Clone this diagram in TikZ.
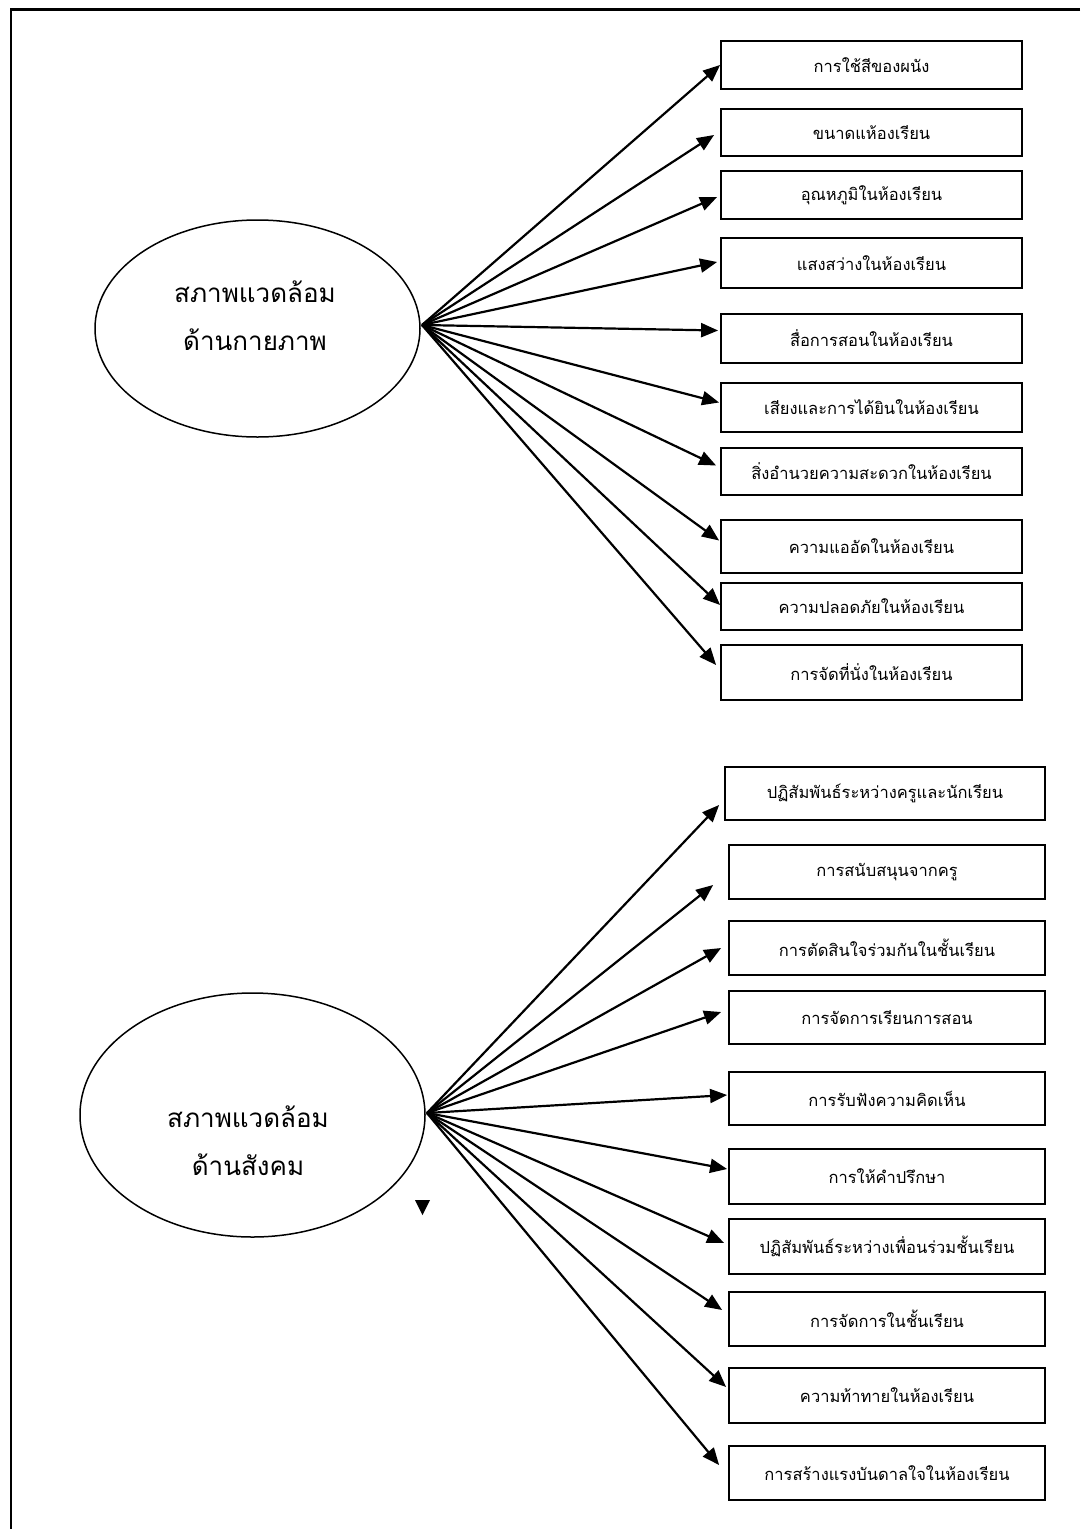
\documentclass[tikz,border=0pt]{standalone}
\usepackage{fontspec}
\newfontfamily\thaifont[Script=Thai]{Loma}
\usetikzlibrary{arrows.meta,shapes.geometric}

\tikzset{
  item/.style={draw, line width=1.8pt, inner sep=0pt, font=\thaifont\fontsize{16.5}{20}\selectfont},
  factor/.style={draw, ellipse, line width=1.5pt, inner sep=0pt},
  factortext/.style={align=center, inner sep=0pt, font=\thaifont\fontsize{26}{48}\selectfont},
  link/.style={line width=2.2pt, -{Triangle[length=17pt,width=14pt]}}
}

\begin{document}
\begin{tikzpicture}[x=1pt, y=-1pt]
\useasboundingbox (0,0) rectangle (1080,1529);
\draw[line width=2.2pt] (1080,9.5) -- (11,9.5) -- (11,1529);

\node[factor, minimum width=325pt, minimum height=217pt] (phys) at (257.5,328.5) {};
\node[factortext] (physname) at (255,316) {สภาพแวดล้อม\\ด้านกายภาพ};
\coordinate (physout) at (422,325);

\node[factor, minimum width=345pt, minimum height=244pt] (soc) at (252.5,1115) {};
\node[factortext] (socname) at (248,1141) {สภาพแวดล้อม\\ด้านสังคม};
\coordinate (socout) at (427,1113);

\foreach \n/\y/\h/\t in {
    p1/65/48/การใช้สีของผนัง,
    p2/132.5/47/ขนาดแห้องเรียน,
    p3/195/48/อุณหภูมิในห้องเรียน,
    p4/263/50/แสงสว่างในห้องเรียน,
    p5/338.5/49/สื่อการสอนในห้องเรียน,
    p6/407.5/49/เสียงและการได้ยินในห้องเรียน,
    p7/471.5/47/สิ่งอำนวยความสะดวกในห้องเรียน,
    p8/546.5/53/ความแออัดในห้องเรียน,
    p9/606.5/47/ความปลอดภัยในห้องเรียน,
    p10/672.5/55/การจัดที่นั่งในห้องเรียน}
  \node[item, minimum width=301pt, minimum height=\h pt] (\n) at (871.5,\y) {\t};

\node[item, minimum width=320pt, minimum height=53pt] (s1) at (885,793.5) {ปฏิสัมพันธ์ระหว่างครูและนักเรียน};
\foreach \n/\y/\h/\t in {
    s2/872/54/การสนับสนุนจากครู,
    s3/948/54/การตัดสินใจร่วมกันในชั้นเรียน,
    s4/1017.5/53/การจัดการเรียนการสอน,
    s5/1098.5/53/การรับฟังความคิดเห็น,
    s6/1176.5/55/การให้คำปรึกษา,
    s7/1246.5/55/ปฏิสัมพันธ์ระหว่างเพื่อนร่วมชั้นเรียน,
    s8/1319/54/การจัดการในชั้นเรียน,
    s9/1395.5/55/ความท้าทายในห้องเรียน,
    s10/1473/54/การสร้างแรงบันดาลใจในห้องเรียน}
  \node[item, minimum width=316pt, minimum height=\h pt] (\n) at (887,\y) {\t};

\foreach \n/\dx/\dy in {p1/0/0, p2/-6/-2.5, p3/-3/-2, p4/-3/1, p5/-2/8,
    p6/-1/5, p7/-4/6, p8/-1/6, p9/0/1.5, p10/-4/7.5}
  \draw[link] (physout) -- ([xshift=\dx pt, yshift=\dy pt]\n.west);

\foreach \n/\dx/\dy in {s1/-5/-11.5, s2/-15/-13, s3/-7/0, s4/-7/5.5, s5/-1/3.5,
    s6/-1/7.5, s7/-4/3.5, s8/-6/9, s9/-2/8.5, s10/-9/8}
  \draw[link] (socout) -- ([xshift=\dx pt, yshift=\dy pt]\n.west);

\fill (415,1200) -- (430,1200) -- (422.5,1215) -- cycle;
\end{tikzpicture}
\end{document}
